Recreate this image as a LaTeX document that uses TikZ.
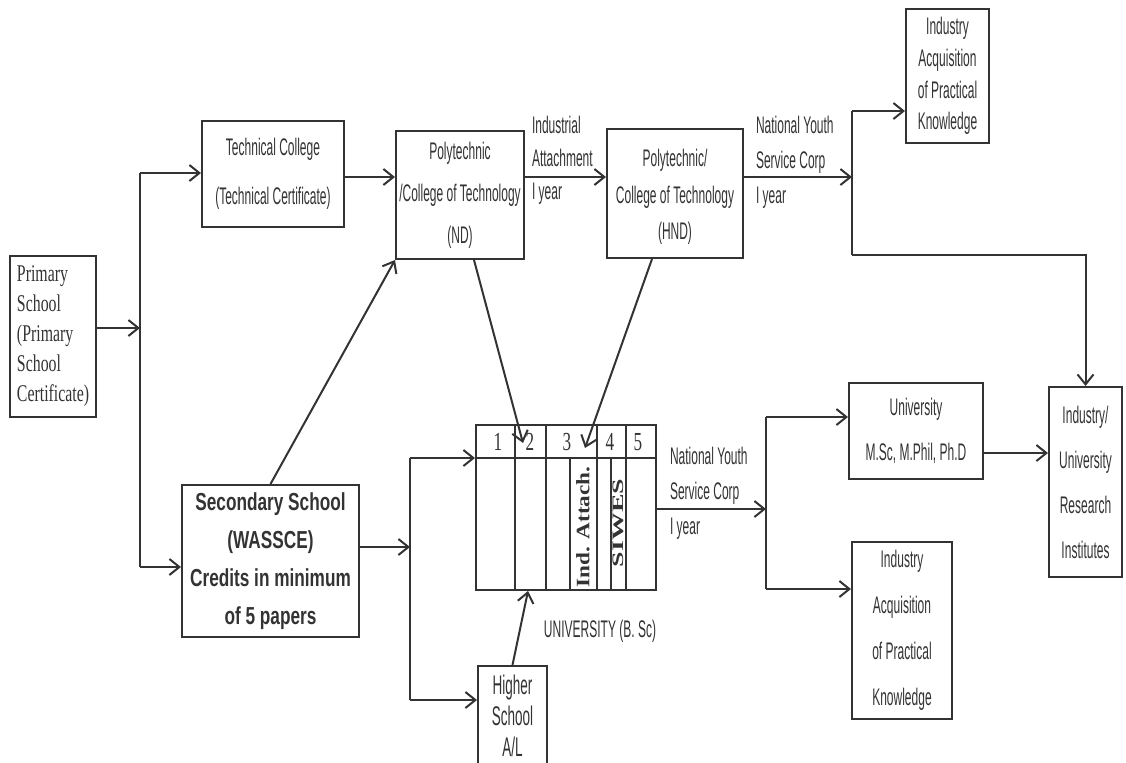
\documentclass[tikz,border=0pt]{standalone}
\usepackage{fontspec}
\usetikzlibrary{arrows.meta}
\newfontfamily\narrowsf[FakeStretch=0.5]{Liberation Sans}
\newfontfamily\widesf[FakeStretch=0.7]{Liberation Sans}
\newfontfamily\narrowrm[FakeStretch=0.66]{Liberation Serif}
\newfontfamily\plainrm{Liberation Serif}
\definecolor{ink}{gray}{0.2}

\begin{document}
\begin{tikzpicture}[x=0.5pt,y=-0.5pt,line width=1pt,color=ink,
	box/.style={draw,rectangle,inner xsep=1pt,inner ysep=2pt,align=center,
		font=\narrowsf\fontsize{12}{#1}\selectfont},
	lbl/.style={anchor=west,inner sep=0pt,align=left,
		font=\narrowsf\fontsize{12}{#1}\selectfont},
	num/.style={inner sep=0pt,font=\narrowrm\fontsize{13}{14}\selectfont},
	rot/.style={rotate=90,inner sep=0pt,font=\plainrm\bfseries\fontsize{#1}{11}\selectfont},
	arr/.style={-{Straight Barb[length=5pt,width=8pt]}}]

	\useasboundingbox (0,0) rectangle (1126,762);

	% primary school
	\node[box=15,font=\narrowrm\fontsize{12}{15}\selectfont,align=left,
		text width=36pt,inner xsep=3.5pt,minimum height=80.5pt] (prim) at (53,336.5)
		{Primary\\School\\(Primary\\School\\Certificate)};

	% top row
	\node[box=24.5,minimum width=71pt,minimum height=53pt] (tech) at (273,174)
		{Technical College\\(Technical Certificate)};
	\node[box=21,minimum width=64pt,minimum height=64pt] (nd) at (460,195)
		{Polytechnic\\/College of Technology\\(ND)};
	\node[box=18.3,minimum width=68pt,minimum height=64.5pt] (hnd) at (675,193.5)
		{\\[-6pt]Polytechnic/\\College of Technology\\(HND)};
	\node[box=15.8,minimum width=41.5pt,minimum height=67pt] (indtop) at (947.5,76)
		{Industry\\Acquisition\\of Practical\\Knowledge};

	% right side
	\node[box=22.5,minimum width=36.5pt,minimum height=95pt] (indres) at (1085.5,482)
		{Industry/\\University\\Research\\Institutes};
	\node[box=22.5,minimum width=67pt,minimum height=48pt] (msc) at (916,431)
		{University\\M.Sc, M.Phil, Ph.D};
	\node[box=23,minimum width=50pt,minimum height=88.5pt] (indbot) at (902,630.5)
		{Industry\\Acquisition\\of Practical\\Knowledge};

	% secondary and higher school
	\node[box=19,font=\widesf\bfseries\fontsize{12.3}{19}\selectfont,
		minimum width=88.5pt,minimum height=76pt] (sec) at (270.5,561)
		{Secondary School\\(WASSCE)\\Credits in minimum\\of 5 papers};
	\node[box=15.5,font=\narrowsf\fontsize{13.5}{15.5}\selectfont,
		minimum width=34.5pt,minimum height=50pt] (higher) at (512.5,716)
		{Higher\\School\\A/L};

	% university table
	\node[draw,minimum width=90pt,minimum height=82.5pt,inner sep=0pt] (univ) at (566,507.5) {};
	\draw (476,458) -- (656,458);
	\foreach \x in {515,546,597,626}
		\draw (\x,425) -- (\x,590);
	\foreach \x in {570,611}
		\draw (\x,458) -- (\x,590);
	\foreach \n/\x in {1/498,2/530,3/567,4/610,5/638}
		\node[num] (yr\n) at (\x,442) {\n};
	\node[rot=9.5] (attach) at (583,527) {\scalebox{1.22}[1]{Ind. Attach.}};
	\node[rot=8] (siwes) at (618,523) {\scalebox{1.74}[1]{SIWES}};
	\node[font=\narrowsf\fontsize{12}{14}\selectfont] (ulbl) at (600,631) {UNIVERSITY (B. Sc)};

	% labels
	\node[lbl=16.5] (attlbl) at (531,160) {Industrial\\Attachment\\I year};
	\node[lbl=17.5] (nysa) at (755,162) {National Youth\\Service Corp\\I year};
	\node[lbl=17.5] (nysb) at (669,493) {National Youth\\Service Corp\\I year};

	% primary to spine
	\coordinate (sp0) at (140,328);
	\coordinate (sp1) at (140,173);
	\coordinate (sp2) at (140,567);
	\draw (sp1) -- (sp2);
	\draw[arr] (prim.east |- sp0) -- (sp0);
	\draw[arr] (sp1) -- (tech.west |- sp1);
	\draw[arr] (sp2) -- (sec.west |- sp2);

	% top row arrows
	\coordinate (row1) at (0,177);
	\coordinate (fk) at (852,177);
	\coordinate (fk1) at (852,111);
	\coordinate (fk2) at (852,255);
	\draw[arr] (tech.east |- row1) -- (nd.west |- row1);
	\draw[arr] (nd.east |- row1) -- (hnd.west |- row1);
	\draw[arr] (hnd.east |- row1) -- (fk);
	\draw (fk1) -- (fk2);
	\draw[arr] (fk1) -- (indtop.west |- fk1);
	\draw[arr] (fk2) -- (fk2 -| indres.north) -- (indres.north);

	% into university
	\coordinate (ndin) at (523,443);
	\coordinate (hndin) at (585,448);
	\draw[arr] ([xshift=7pt]nd.south) -- (ndin);
	\draw[arr] ([xshift=-11.5pt]hnd.south) -- (hndin);
	\draw[arr] (sec.north) -- (nd.south west);

	% secondary to university
	\coordinate (fs) at (410,547);
	\coordinate (fs1) at (410,458);
	\coordinate (fs2) at (410,700);
	\draw[arr] (sec.east |- fs) -- (fs);
	\draw (fs1) -- (fs2);
	\draw[arr] (fs1) -- (univ.west |- fs1);
	\draw[arr] (fs2) -- (higher.west |- fs2);
	\draw[arr] (higher.north) -- ([xshift=-19pt]univ.south);

	% after university
	\coordinate (fu) at (766,509);
	\coordinate (fu1) at (766,417);
	\coordinate (fu2) at (766,589);
	\coordinate (fm) at (0,453);
	\draw[arr] (univ.east |- fu) -- (fu);
	\draw (fu1) -- (fu2);
	\draw[arr] (fu1) -- (msc.west |- fu1);
	\draw[arr] (fu2) -- (indbot.west |- fu2);
	\draw[arr] (msc.east |- fm) -- (indres.west |- fm);

\end{tikzpicture}
\end{document}
